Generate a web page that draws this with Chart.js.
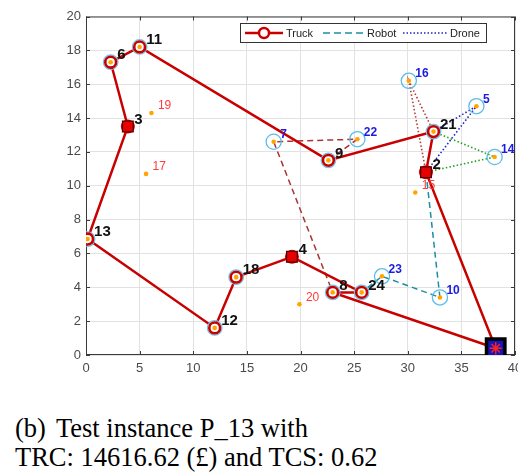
<!DOCTYPE html>
<html>
<head>
<meta charset="utf-8">
<script src="https://cdn.jsdelivr.net/npm/chart.js@4.4.1/dist/chart.umd.min.js"></script>
<style>
  html, body { margin: 0; padding: 0; background: #fff; }
  #wrap { width: 518px; height: 475px; position: relative; overflow: hidden; }
  #routeChart { position: absolute; left: 0; top: 0; }
  #caption { position: absolute; left: 15px; top: 414px; font-family: "Liberation Serif", "Times New Roman", serif; font-size: 26.5px; line-height: 29px; color: #000; white-space: nowrap; }
</style>
</head>
<body>
<div id="wrap">
  <canvas id="routeChart" width="540" height="380"></canvas>
  <div id="caption">(b)<span style="margin-left:10px">Test instance P_13 with</span><br>TRC: 14616.62 (£) and TCS: 0.62</div>
</div>
<script>
// node coordinates (D = depot)
const nodeIds = ['D', '2', '3', '4', '5', '6', '7', '8', '9', '10', '11', '12', '13', '14', '15', '16', '17', '18', '19', '20', '21', '22', '23', '24'];
const nodeX = [38.2, 31.7, 3.9, 19.2, 36.4, 2.3, 17.5, 23.0, 22.6, 33.0, 5.0, 12.0, 0.15, 38.1, 30.7, 30.1, 5.6, 14.0, 6.1, 19.9, 32.4, 25.3, 27.6, 25.7];
const nodeY = [0.4, 10.8, 13.5, 5.8, 14.7, 17.3, 12.6, 3.7, 11.5, 3.4, 18.2, 1.6, 6.85, 11.7, 9.6, 16.2, 10.7, 4.6, 14.3, 3.0, 13.2, 12.75, 4.65, 3.7];

// routes
const truckRoute = ['D', '2', '21', '9', '11', '6', '3', '13', '12', '18', '4', '24', '8', 'D'];
const robotRouteA = ['2', '10', '23', '24'];
const robotRouteB = ['9', '22', '7', '8'];
const droneRouteA = ['21', '16', '2'];
const droneRouteB = ['21', '5', '2'];
const droneRouteC = ['21', '14', '2'];

// node roles
const truckNodes = ['6', '8', '9', '11', '12', '13', '18', '21', '24'];
const hubNodes = ['2', '3', '4'];
const serviceNodes = ['5', '7', '10', '14', '16', '22', '23'];
const unservedNodes = ['15', '17', '19', '20'];

const xTicks = [0, 5, 10, 15, 20, 25, 30, 35, 40];
const yTicks = [0, 2, 4, 6, 8, 10, 12, 14, 16, 18, 20];

const P = id => { const i = nodeIds.indexOf(id); return { x: nodeX[i], y: nodeY[i] }; };

const RED = '#c80000';

function line(ids, color, dash, width, label) {
    return { label: label || '', data: ids.map(P), showLine: true, borderColor: color, borderWidth: width,
             borderDash: dash, pointRadius: 0, fill: false, tension: 0, order: 10 };
}
function marks(ids, style, radius, bg, border, bw, order) {
    return { data: ids.map(P), showLine: false, pointStyle: style, pointRadius: radius,
             backgroundColor: bg, borderColor: border, borderWidth: bw, order: order };
}

const labelPlugin = {
    id: 'nodeLabels',
    afterDatasetsDraw(chart) {
        const c = chart.ctx, xs = chart.scales.x, ys = chart.scales.y;
        c.save();
        c.textBaseline = 'middle';
        c.textAlign = 'left';
        nodeIds.forEach((id, i) => {
            if (id === 'D') return;
            let font = 'bold 15px "Liberation Sans", Arial', color = '#111';
            if (serviceNodes.includes(id)) { font = 'bold 12px "Liberation Sans", Arial'; color = '#1c1ce0'; }
            if (unservedNodes.includes(id)) { font = '12px "Liberation Sans", Arial'; color = '#ff3a3a'; }
            c.font = font;
            c.fillStyle = color;
            c.fillText(id, xs.getPixelForValue(nodeX[i]) + 6.5, ys.getPixelForValue(nodeY[i]) - 7);
        });
        c.restore();
    }
};

const framePlugin = {
    id: 'frame',
    beforeDatasetsDraw(chart) {
        const a = chart.chartArea, c = chart.ctx, xs = chart.scales.x, ys = chart.scales.y;
        c.save();
        c.strokeStyle = '#3a3a3a';
        c.lineWidth = 1;
        c.strokeRect(a.left + 0.5, a.top + 0.5, a.right - a.left - 1, a.bottom - a.top - 1);
        c.beginPath();
        xTicks.forEach(v => {
            const px = Math.round(xs.getPixelForValue(v)) + 0.5;
            c.moveTo(px, a.bottom); c.lineTo(px, a.bottom - 4);
            c.moveTo(px, a.top); c.lineTo(px, a.top + 4);
        });
        yTicks.forEach(v => {
            const py = Math.round(ys.getPixelForValue(v)) + 0.5;
            c.moveTo(a.left, py); c.lineTo(a.left + 4, py);
            c.moveTo(a.right, py); c.lineTo(a.right - 4, py);
        });
        c.stroke();
        c.restore();
    }
};

const legendPlugin = {
    id: 'boxLegend',
    afterDraw(chart) {
        const c = chart.ctx;
        c.save();
        c.fillStyle = '#fff';
        c.fillRect(240, 23, 246, 19);
        c.strokeStyle = '#333';
        c.lineWidth = 1;
        c.strokeRect(240.5, 23.5, 246, 19);
        const y = 33;
        // truck
        c.strokeStyle = RED; c.lineWidth = 2.5; c.setLineDash([]);
        c.beginPath(); c.moveTo(245, y); c.lineTo(283, y); c.stroke();
        c.fillStyle = '#fff';
        c.beginPath(); c.arc(264, y, 5, 0, Math.PI * 2); c.fill(); c.stroke();
        // robot
        c.strokeStyle = '#1b8fa2'; c.lineWidth = 1.5; c.setLineDash([7, 4]);
        c.beginPath(); c.moveTo(323, y); c.lineTo(365, y); c.stroke();
        // drone
        c.strokeStyle = '#2323c8'; c.setLineDash([1.5, 2]);
        c.beginPath(); c.moveTo(403, y); c.lineTo(448, y); c.stroke();
        c.setLineDash([]);
        c.fillStyle = '#222';
        c.font = '11px "Liberation Sans", Arial';
        c.textBaseline = 'middle';
        c.fillText('Truck', 286, y + 0.5);
        c.fillText('Robot', 367, y + 0.5);
        c.fillText('Drone', 450, y + 0.5);
        c.restore();
    }
};

const customers = nodeIds.filter(id => id !== 'D' && !hubNodes.includes(id));

new Chart(document.getElementById('routeChart').getContext('2d'), {
    type: 'scatter',
    data: {
        datasets: [
            line(truckRoute, RED, [], 2.5, 'Truck'),
            line(robotRouteA, '#1b8fa2', [6, 4], 1.5, 'Robot'),
            line(robotRouteB, '#a83434', [6, 4], 1.5),
            line(droneRouteA, '#b33a3a', [1.5, 2.2], 1.6, 'Drone'),
            line(droneRouteB, '#2323c8', [1.5, 2.2], 1.6),
            line(droneRouteC, '#23a023', [1.5, 2.2], 1.6),
            marks(truckNodes, 'circle', 7.3, 'rgba(0,0,0,0)', '#6cc3ee', 1.2, 4),
            marks(truckNodes, 'circle', 5.4, '#fff', RED, 2.6, 3),
            marks(serviceNodes, 'circle', 7.6, 'rgba(0,0,0,0)', '#5cbde9', 1.3, 3),
            marks(hubNodes, 'circle', 7, '#d40000', '#d40000', 0, 3),
            marks(hubNodes, 'rect', 7.6, '#e80000', '#500000', 1.2, 2),
            marks(customers, 'circle', 2.3, '#ffa500', '#ffa500', 0, 1),
            marks(['D'], 'rect', 13, '#1414b8', '#000', 3.5, 1),
            marks(['D'], 'star', 6, 'rgba(0,0,0,0)', '#ff2020', 1.5, 0)
        ]
    },
    options: {
        responsive: false,
        animation: false,
        events: [],
        devicePixelRatio: 1,
        layout: { padding: { left: 0, top: 15, right: 25, bottom: 0 } },
        plugins: { legend: { display: false }, tooltip: { enabled: false } },
        scales: {
            x: {
                type: 'linear', min: 0, max: 40,
                afterBuildTicks: s => { s.ticks = xTicks.map(v => ({ value: v })); },
                afterFit: s => { s.height = 25; },
                grid: { color: '#e2e2e2', drawTicks: false },
                border: { display: false },
                ticks: { padding: 6, color: '#4a4a4a', font: { size: 13, family: '"Liberation Sans", Arial' } }
            },
            y: {
                type: 'linear', min: 0, max: 20,
                afterBuildTicks: s => { s.ticks = yTicks.map(v => ({ value: v })); },
                afterFit: s => { s.width = 86; },
                grid: { color: '#e2e2e2', drawTicks: false },
                border: { display: false },
                ticks: { padding: 5, color: '#4a4a4a', font: { size: 13, family: '"Liberation Sans", Arial' } }
            }
        }
    },
    plugins: [framePlugin, labelPlugin, legendPlugin]
});
</script>
</body>
</html>
